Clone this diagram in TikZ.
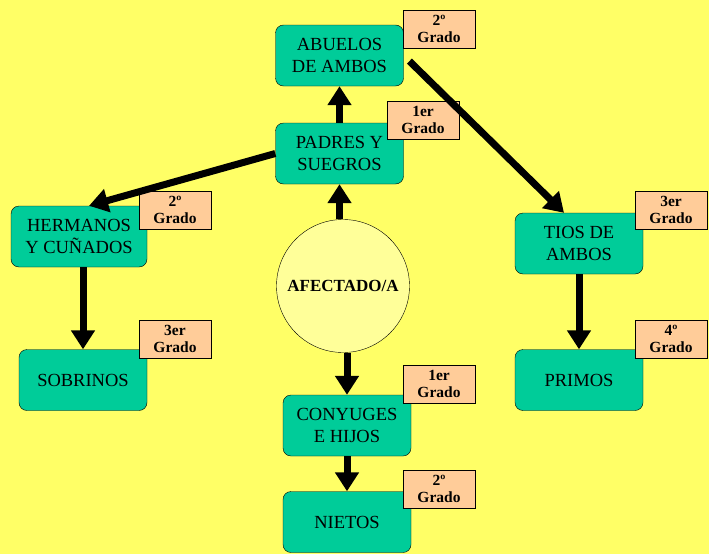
\documentclass[tikz,border=0pt]{standalone}
\usepackage{fontspec}
\setmainfont{Liberation Serif}
\usetikzlibrary{arrows.meta}
\definecolor{fondo}{HTML}{FFFF66}
\definecolor{verde}{HTML}{00CC99}
\definecolor{naranja}{HTML}{FFCC99}
\definecolor{circulo}{HTML}{FFFF99}
\tikzset{
  caja/.style={draw, fill=verde, rounded corners=8pt, minimum width=128pt, minimum height=61pt,
    align=center, inner sep=0pt, font=\fontsize{18.5}{22}\selectfont},
  grado/.style={draw, fill=naranja, minimum width=72pt, minimum height=38pt,
    align=center, inner sep=0pt, font=\bfseries\fontsize{15.5}{17}\selectfont},
  flecha/.style={line width=7pt, -{Triangle[length=19pt,width=23pt]}}
}
\begin{document}
\begin{tikzpicture}[x=1pt,y=-1pt]
  \fill[fondo] (0,0) rectangle (709,554);
  \useasboundingbox (0,0) rectangle (709,554);
  % cajas de parientes
  \node[caja] (abuelos) at (339.5,55.5) {ABUELOS\\DE AMBOS};
  \node[caja] (padres) at (339.5,153.5) {PADRES Y\\SUEGROS};
  \node[caja, minimum width=136pt] (hermanos) at (79,236.5) {HERMANOS\\Y CUÑADOS};
  \node[caja] (sobrinos) at (83,380) {SOBRINOS};
  \node[caja] (tios) at (579,243.5) {TIOS DE\\AMBOS};
  \node[caja] (primos) at (579,380) {PRIMOS};
  \node[caja] (conyuges) at (347,425.5) {CONYUGES\\E HIJOS};
  \node[caja] (nietos) at (347,522) {NIETOS};
  \node[circle, draw, fill=circulo, minimum size=133pt, inner sep=0pt,
    font=\bfseries\fontsize{17}{20}\selectfont] (afectado) at (343,286) {AFECTADO/A};
  % grados
  \node[grado] (g-abuelos) at (439,29) {2º\\Grado};
  \node[grado] (g-padres) at (423,120) {1er\\Grado};
  \node[grado] (g-hermanos) at (175,210) {2º\\Grado};
  \node[grado] (g-sobrinos) at (175,339) {3er\\Grado};
  \node[grado] (g-tios) at (671,210) {3er\\Grado};
  \node[grado] (g-primos) at (671,339) {4º\\Grado};
  \node[grado] (g-conyuges) at (439,384) {1er\\Grado};
  \node[grado] (g-nietos) at (439,489) {2º\\Grado};
  % flechas
  \draw[flecha] (padres.north) -- (abuelos.south);
  \draw[flecha] (afectado.north -| padres.south) -- (padres.south);
  \draw[flecha] (padres.west) -- ([xshift=10pt]hermanos.north);
  \draw[flecha, shorten <=8pt] (abuelos.east) -- ([xshift=-15pt]tios.north);
  \draw[flecha] ([xshift=4pt]hermanos.south) -- (sobrinos.north);
  \draw[flecha] (tios.south) -- (primos.north);
  \draw[flecha] (afectado.south -| conyuges.north) -- (conyuges.north);
  \draw[flecha] (conyuges.south) -- (nietos.north);
\end{tikzpicture}
\end{document}
